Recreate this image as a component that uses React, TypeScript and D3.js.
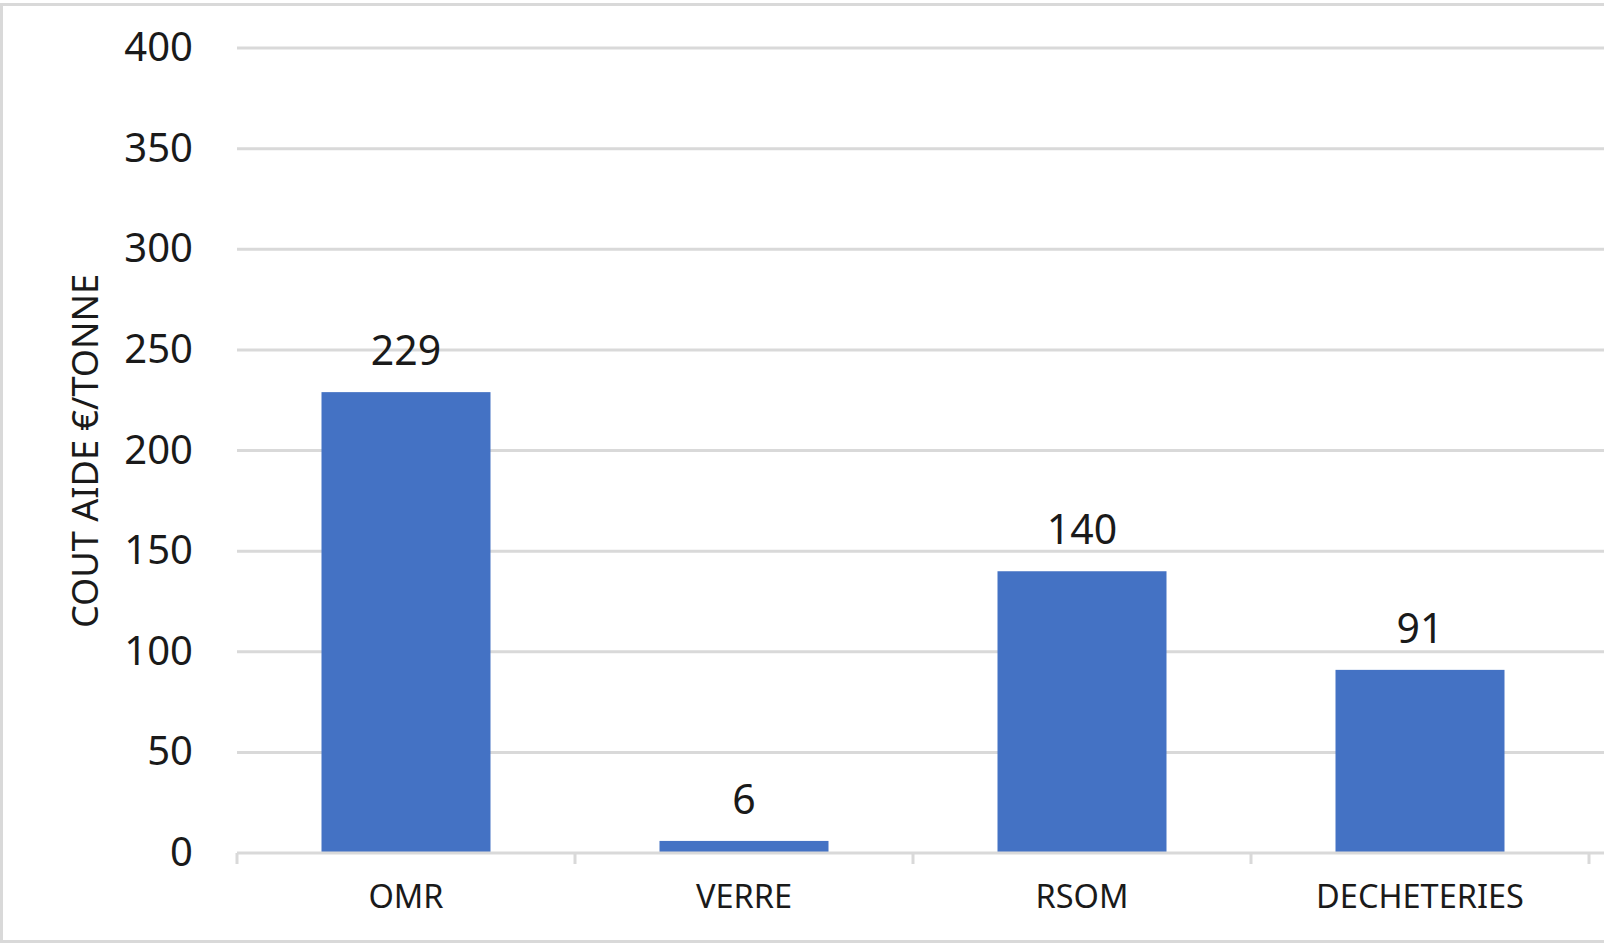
import * as d3 from "d3";

const categories = ["OMR", "VERRE", "RSOM", "DECHETERIES"];
const values = [229, 6, 140, 91];
const yTicks = [0, 50, 100, 150, 200, 250, 300, 350, 400];
const yTitle = "COUT AIDE €/TONNE";

const W = 1604;
const H = 944;
const font = "'Noto Sans', 'Open Sans', sans-serif";

const App = () => {
  const x = d3
    .scaleBand<string>()
    .domain(categories)
    .range([237, 1589])
    .paddingInner(0.5)
    .paddingOuter(0.25);

  const y = d3.scaleLinear().domain([0, 400]).range([853, 48]);

  const step = x.step();
  const left = x.range()[0];
  const boundaries = d3.range(categories.length + 1).map((i) => left + i * step);

  return (
    <svg
      width={W}
      height={H}
      style={{ position: "absolute", left: 0, top: 0, display: "block", background: "#fff" }}
      fontFamily={font}
    >
      <rect x={1.5} y={4.5} width={W + 10} height={937} fill="#fff" stroke="#d9d9d9" strokeWidth={3} />

      {/* grid */}
      {yTicks.slice(1).map((t) => (
        <line key={t} x1={237} x2={W} y1={y(t)} y2={y(t)} stroke="#d9d9d9" strokeWidth={3} />
      ))}

      {/* y tick labels */}
      {yTicks.map((t) => (
        <text
          key={t}
          x={193}
          y={y(t) + 13}
          textAnchor="end"
          fontSize={40}
          fill="#1a1a1a"
        >
          {t}
        </text>
      ))}

      {/* bars */}
      {categories.map((c, i) => (
        <rect
          key={c}
          x={x(c)!}
          y={y(values[i])}
          width={x.bandwidth()}
          height={y(0) - y(values[i])}
          fill="#4472c4"
        />
      ))}

      {/* x axis */}
      <line x1={237} x2={W} y1={y(0)} y2={y(0)} stroke="#d9d9d9" strokeWidth={3} />
      {boundaries.map((b, i) => (
        <line key={i} x1={b} x2={b} y1={y(0)} y2={y(0) + 11} stroke="#d9d9d9" strokeWidth={3} />
      ))}

      {/* data labels */}
      {categories.map((c, i) => (
        <text
          key={c}
          x={x(c)! + x.bandwidth() / 2}
          y={y(values[i]) - 27}
          textAnchor="middle"
          fontSize={41}
          fill="#1a1a1a"
        >
          {values[i]}
        </text>
      ))}

      {/* category labels */}
      {categories.map((c) => (
        <text
          key={c}
          x={x(c)! + x.bandwidth() / 2}
          y={908}
          textAnchor="middle"
          fontSize={32.5}
          fill="#1a1a1a"
        >
          {c}
        </text>
      ))}

      <text
        transform="translate(83,451) rotate(-90)"
        textAnchor="middle"
        dominantBaseline="central"
        fontSize={37}
        textLength={354}
        lengthAdjust="spacingAndGlyphs"
        fill="#1a1a1a"
      >
        {yTitle}
      </text>
    </svg>
  );
};

export default App;
